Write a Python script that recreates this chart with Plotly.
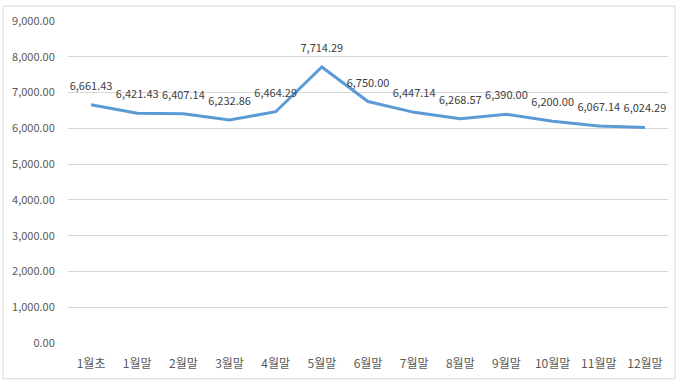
import plotly.graph_objects as go

categories = ["1월초", "1월말", "2월말", "3월말", "4월말", "5월말", "6월말",
              "7월말", "8월말", "9월말", "10월말", "11월말", "12월말"]
values = [6661.43, 6421.43, 6407.14, 6232.86, 6464.29, 7714.29, 6750.00,
          6447.14, 6268.57, 6390.00, 6200.00, 6067.14, 6024.29]
y_ticks = [0, 1000, 2000, 3000, 4000, 5000, 6000, 7000, 8000, 9000]
y_tick_labels = [f"{v:,.2f}" for v in y_ticks]

FONT = "Noto Sans CJK KR, Noto Sans, sans-serif"

fig = go.Figure()
fig.add_trace(go.Scatter(
    x=list(range(len(categories))), y=values,
    mode="lines+markers+text",
    line=dict(color="#5B9BD5", width=3),
    marker=dict(size=18, color="rgba(0,0,0,0)"),
    text=[f"{v:,.2f}" for v in values],
    textposition="top center",
    textfont=dict(family=FONT, size=11, color="#404040"),
    cliponaxis=False,
    hoverinfo="skip",
))

fig.update_layout(
    width=686, height=383,
    margin=dict(l=68, r=18, t=19, b=40),
    paper_bgcolor="white", plot_bgcolor="white",
    showlegend=False,
    font=dict(family=FONT, size=11, color="#595959"),
    xaxis=dict(
        range=[-0.5, len(categories) - 0.5],
        tickmode="array",
        tickvals=list(range(len(categories))),
        ticktext=categories,
        showgrid=False, zeroline=False, showline=False,
        ticks="outside", ticklen=10, tickcolor="rgba(0,0,0,0)",
        tickfont=dict(family=FONT, size=12, color="#595959"),
        fixedrange=True,
    ),
    yaxis=dict(
        range=[0, 9000],
        tickmode="array",
        tickvals=y_ticks,
        ticktext=y_tick_labels,
        showgrid=True, gridcolor="#D9D9D9", gridwidth=1,
        zeroline=False, showline=False,
        ticks="outside", ticklen=10, tickcolor="rgba(0,0,0,0)",
        tickfont=dict(family=FONT, size=11, color="#595959"),
        fixedrange=True,
    ),
    shapes=[dict(
        type="rect", xref="paper", yref="paper",
        x0=-0.1083, x1=1.0117, y0=-0.111, y1=1.0463,
        line=dict(color="#D9D9D9", width=1), fillcolor="rgba(0,0,0,0)",
        layer="below",
    )],
)

fig.write_html(
    "out.html",
    config={"displayModeBar": False, "staticPlot": True},
    post_script="document.body.style.margin='0px';document.body.style.overflow='hidden';",
)
